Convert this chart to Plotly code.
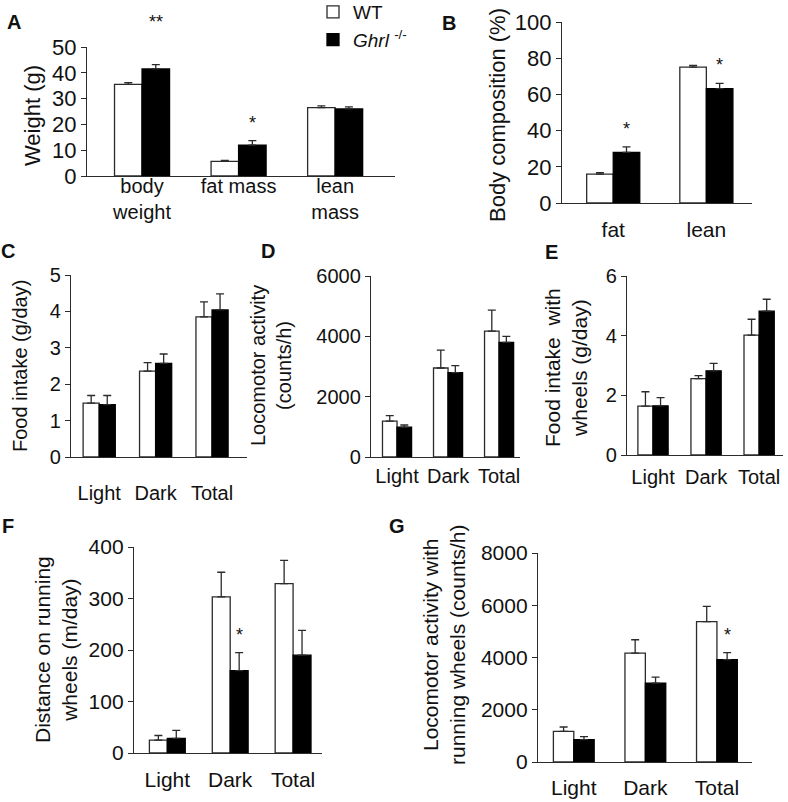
import plotly.graph_objects as go

W, H = 788, 802
FONT = "Liberation Sans, Arial, sans-serif"

# ---------------- data ----------------
cats_A = ["body<br>weight", "fat mass", "lean<br>mass"]
wt_A = [35.5, 5.7, 26.5]
wt_A_err = [0.7, 0.3, 0.7]
ko_A = [41.5, 12.0, 26.0]
ko_A_err = [1.7, 1.7, 0.8]

cats_B = ["fat", "lean"]
wt_B = [16.0, 75.1]
wt_B_err = [0.8, 0.9]
ko_B = [28.0, 63.2]
ko_B_err = [3.0, 2.9]

cats_LDT = ["Light", "Dark", "Total"]

wt_C = [1.48, 2.36, 3.85]
wt_C_err = [0.21, 0.23, 0.41]
ko_C = [1.44, 2.57, 4.04]
ko_C_err = [0.25, 0.26, 0.44]

wt_D = [1190, 2950, 4170]
wt_D_err = [180, 590, 700]
ko_D = [990, 2800, 3800]
ko_D_err = [70, 230, 200]

wt_E = [1.64, 2.56, 4.02]
wt_E_err = [0.48, 0.10, 0.53]
ko_E = [1.65, 2.82, 4.82]
ko_E_err = [0.27, 0.25, 0.40]

wt_F = [25, 303, 329]
wt_F_err = [9, 48, 45]
ko_F = [28.5, 160, 190]
ko_F_err = [15.5, 35, 48]

wt_G = [1170, 4170, 5370]
wt_G_err = [170, 510, 590]
ko_G = [860, 3020, 3915]
ko_G_err = [115, 230, 270]

# significance marks above the Ghrl-/- bar: (panel, category index, text)
stars = [("A", 0, "**"), ("A", 1, "*"), ("B", 0, "*"), ("B", 1, "*"),
         ("F", 1, "*"), ("G", 2, "*")]

# ---------------- layout (pixel boxes) ----------------
panels = {
    "A": dict(box=(87, 395, 176, 47), ymax=50, dtick=10, xr=(-0.57, 2.62), fs=22, xfs=20, so=-8,
              cats=cats_A, wt=wt_A, wte=wt_A_err, ko=ko_A, koe=ko_A_err),
    "B": dict(box=(562, 752, 203, 22), ymax=100, dtick=20, xr=(-0.55, 1.49), fs=22, xfs=21, so=8,
              cats=cats_B, wt=wt_B, wte=wt_B_err, ko=ko_B, koe=ko_B_err),
    "C": dict(box=(71, 247, 457, 275), ymax=5, dtick=1, xr=(-0.5, 2.62), fs=20, xfs=20, so=18,
              cats=cats_LDT, wt=wt_C, wte=wt_C_err, ko=ko_C, koe=ko_C_err),
    "D": dict(box=(371, 520, 457, 276), ymax=6000, dtick=2000, xr=(-0.51, 2.41), fs=20, xfs=20, so=1,
              cats=cats_LDT, wt=wt_D, wte=wt_D_err, ko=ko_D, koe=ko_D_err),
    "E": dict(box=(627, 783, 455, 276), ymax=6, dtick=2, xr=(-0.49, 2.45), fs=20, xfs=20, so=4,
              cats=cats_LDT, wt=wt_E, wte=wt_E_err, ko=ko_E, koe=ko_E_err),
    "F": dict(box=(134, 322, 753, 547), ymax=400, dtick=100, xr=(-0.53, 2.46), fs=21, xfs=21, so=8,
              cats=cats_LDT, wt=wt_F, wte=wt_F_err, ko=ko_F, koe=ko_F_err),
    "G": dict(box=(538, 752, 762, 553), ymax=8000, dtick=2000, xr=(-0.5, 2.49), fs=21, xfs=21, so=7,
              cats=cats_LDT, wt=wt_G, wte=wt_G_err, ko=ko_G, koe=ko_G_err),
}

titles = [
    ("Weight (g)", 33, 116, 22),
    ("Body composition (%)", 497, 115, 22),
    ("Food intake (g/day)", 20, 366, 20),
    ("Locomotor activity<br>(counts/h)", 271, 366, 20),
    ("Food intake  with<br>wheels (g/day)", 566, 368, 21),
    ("Distance on running<br>wheels (m/day)", 56, 650, 21),
    ("Locomotor activity with<br>running wheels (counts/h)", 444, 645, 21),
]

letters = [("A", 14, 22), ("B", 449, 23), ("C", 8, 251), ("D", 268, 251),
           ("E", 551, 252), ("F", 8, 526), ("G", 397, 526)]

BW = 0.285
LINE = "#2b2b2b"


def px(x):
    return x / W


def py(y):
    return 1 - y / H


fig = go.Figure()
layout = dict(
    width=W, height=H, autosize=False,
    margin=dict(l=0, r=0, t=0, b=0, pad=0, autoexpand=False),
    paper_bgcolor="white", plot_bgcolor="white",
    font=dict(family=FONT, color="#111", size=20),
    barmode="overlay",
    showlegend=True,
    legend=dict(x=px(313), y=py(-7), xanchor="left", yanchor="top",
                bgcolor="rgba(0,0,0,0)", font=dict(size=19, family=FONT),
                itemwidth=30, tracegroupgap=0),
)
annotations = []

for i, (name, p) in enumerate(panels.items()):
    k = "" if i == 0 else str(i + 1)
    xa, ya = "x" + k, "y" + k
    x0, x1, yb, yt = p["box"]
    n = len(p["cats"])
    pos = list(range(n))
    err_style = dict(type="data", symmetric=False, color=LINE, thickness=1.3, width=4)
    fig.add_trace(go.Bar(
        x=pos, y=p["wt"], width=BW, offset=-BW, name="WT",
        marker=dict(color="white", line=dict(color=LINE, width=1.3)),
        error_y=dict(array=p["wte"], arrayminus=[0] * n, **err_style),
        xaxis=xa, yaxis=ya, showlegend=(i == 0), legendrank=1,
    ))
    fig.add_trace(go.Bar(
        x=pos, y=p["ko"], width=BW, offset=0, name="<i>Ghrl</i> <sup>-/-</sup>",
        marker=dict(color="black", line=dict(color="black", width=1.3)),
        error_y=dict(array=p["koe"], arrayminus=[0] * n, **err_style),
        xaxis=xa, yaxis=ya, showlegend=(i == 0), legendrank=2,
    ))
    layout["xaxis" + k] = dict(
        domain=[px(x0), px(x1)], anchor=ya, range=list(p["xr"]),
        tickvals=pos, ticktext=p["cats"], ticks="", showgrid=False, zeroline=False,
        showline=True, linecolor=LINE, linewidth=1.3, automargin=False,
        tickfont=dict(size=p["xfs"], family=FONT, color="#111"),
        ticklabelstandoff=p["so"], fixedrange=True,
    )
    layout["yaxis" + k] = dict(
        domain=[py(yb), py(yt)], anchor=xa, range=[0, p["ymax"]], dtick=p["dtick"],
        ticks="outside", ticklen=5, tickwidth=1.3, tickcolor=LINE, automargin=False,
        showgrid=False, zeroline=False, showline=True, linecolor=LINE, linewidth=1.3,
        tickfont=dict(size=p["fs"], family=FONT, color="#111"), fixedrange=True,
    )
    p["axes"] = (xa, ya)

for name, ci, txt in stars:
    p = panels[name]
    xa, ya = p["axes"]
    annotations.append(dict(x=ci + BW / 2, y=p["ko"][ci] + p["koe"][ci], xref=xa, yref=ya,
                            text=txt, showarrow=False,
                            font=dict(size=18, family=FONT, color="#111"),
                            xanchor="center", yanchor="middle",
                            yshift=43 if txt == "**" else 18))

for txt, cx, cy, fs in titles:
    annotations.append(dict(x=px(cx), y=py(cy), xref="paper", yref="paper", text=txt,
                            textangle=-90, showarrow=False, xanchor="center", yanchor="middle",
                            font=dict(size=fs, family=FONT, color="#111")))

for txt, cx, cy in letters:
    annotations.append(dict(x=px(cx), y=py(cy), xref="paper", yref="paper",
                            text="<b>%s</b>" % txt, showarrow=False,
                            xanchor="center", yanchor="middle",
                            font=dict(size=20, family=FONT, color="#111")))

layout["annotations"] = annotations
fig.update_layout(**layout)
fig.write_html("out.html",
               config={"displayModeBar": False, "staticPlot": False},
               post_script="document.body.style.margin='0px';"
                           "document.documentElement.style.margin='0px';")
